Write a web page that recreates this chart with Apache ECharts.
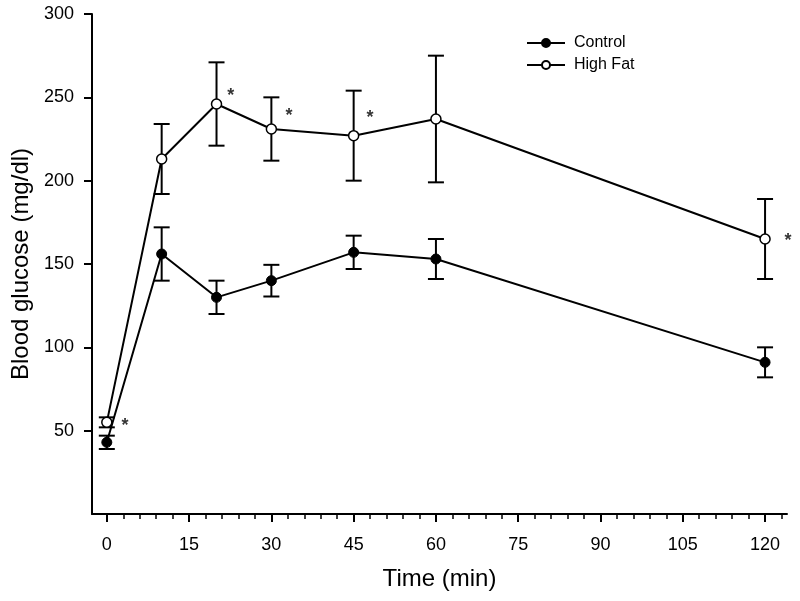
<!DOCTYPE html>
<html><head><meta charset="utf-8">
<script src="https://cdn.jsdelivr.net/npm/echarts@6/dist/echarts.min.js"></script>
<style>html,body{margin:0;padding:0;background:#fff}#c{width:800px;height:601px}</style>
</head><body><div id="c"></div>
<script>
var times = [0, 10, 20, 30, 45, 60, 120];
var controlMean = [43, 156, 130, 140, 157, 153, 91];
var controlErr  = [4, 16, 10, 9.5, 10, 12, 9];
var highFatMean = [55, 213, 246, 231, 227, 237, 165];
var highFatErr  = [3, 21, 25, 19, 27, 38, 24];
var starTimes   = [3.3, 22.6, 33.2, 48, 124.2];
var starValues  = [55, 253, 241, 240, 166];
var xTickLabels = [0, 15, 30, 45, 60, 75, 90, 105, 120];
var xMinorTicks = [];
for (var m = -3; m <= 123; m += 3) xMinorTicks.push(m);
var yTickLabels = [50, 100, 150, 200, 250, 300];

var FONT = 'Liberation Sans';
function pairs(xs, ys){ return xs.map(function(x,i){ return [x, ys[i]]; }); }
function errData(xs, mean, err){ return xs.map(function(x,i){ return [x, mean[i]-err[i], mean[i]+err[i]]; }); }

function errorBar(params, api){
  var x = api.value(0);
  var lo = api.coord([x, api.value(1)]);
  var hi = api.coord([x, api.value(2)]);
  var w = 8;
  var st = {stroke:'#000', lineWidth:2};
  return {type:'group', children:[
    {type:'line', shape:{x1:lo[0], y1:lo[1], x2:hi[0], y2:hi[1]}, style:st},
    {type:'line', shape:{x1:lo[0]-w, y1:lo[1], x2:lo[0]+w, y2:lo[1]}, style:st},
    {type:'line', shape:{x1:hi[0]-w, y1:hi[1], x2:hi[0]+w, y2:hi[1]}, style:st}
  ]};
}

var chart = echarts.init(document.getElementById('c'));
chart.setOption({
  animation:false,
  backgroundColor:'#fff',
  grid:{left:92, right:13, top:14, bottom:87},
  legend:{
    orient:'vertical', left:521, top:30, itemWidth:38, itemHeight:10, itemGap:6,
    textStyle:{fontFamily:FONT, fontSize:16, color:'#000', padding:[0,0,0,4]},
    data:['Control','High Fat']
  },
  xAxis:[{
    type:'value', min:-2.7, max:124,
    name:'Time (min)', nameLocation:'middle', nameGap:53,
    nameTextStyle:{fontFamily:FONT, fontSize:24, color:'#000'},
    axisLine:{onZero:false, lineStyle:{color:'#000', width:2}},
    axisTick:{show:true, length:8, lineStyle:{color:'#000', width:2}, customValues:xTickLabels},
    axisLabel:{fontFamily:FONT, fontSize:18, color:'#000', margin:22, customValues:xTickLabels},
    splitLine:{show:false}
  },{
    type:'value', min:-2.7, max:124, position:'bottom',
    axisLine:{show:false, onZero:false},
    axisTick:{show:true, length:5, lineStyle:{color:'#000', width:1.5}, customValues:xMinorTicks},
    axisLabel:{show:false},
    splitLine:{show:false}
  }],
  yAxis:{
    type:'value', min:0, max:300,
    name:'Blood glucose (mg/dl)', nameLocation:'middle', nameGap:50,
    nameTextStyle:{fontFamily:FONT, fontSize:24, color:'#000'},
    axisLine:{show:true, onZero:false, lineStyle:{color:'#000', width:2}},
    axisTick:{show:true, length:8, lineStyle:{color:'#000', width:2}, customValues:yTickLabels},
    axisLabel:{fontFamily:FONT, fontSize:18, color:'#000', margin:18, customValues:yTickLabels},
    splitLine:{show:false}
  },
  series:[
    {type:'custom', name:'ctrlErr', renderItem:errorBar, data:errData(times, controlMean, controlErr), z:1, silent:true},
    {type:'custom', name:'hfErr', renderItem:errorBar, data:errData(times, highFatMean, highFatErr), z:1, silent:true},
    {type:'line', name:'Control', data:pairs(times, controlMean), symbol:'circle', symbolSize:10,
     lineStyle:{color:'#000', width:2}, itemStyle:{color:'#000', borderColor:'#000', borderWidth:1}, z:3},
    {type:'line', name:'High Fat', data:pairs(times, highFatMean), symbol:'circle', symbolSize:10,
     lineStyle:{color:'#000', width:2}, itemStyle:{color:'#fff', borderColor:'#000', borderWidth:1.5}, z:3},
    {type:'scatter', name:'stars', data:pairs(starTimes, starValues), symbol:'circle', symbolSize:1, clip:false, silent:true,
     itemStyle:{color:'rgba(0,0,0,0)'},
     label:{show:true, position:'inside', formatter:'*', fontFamily:FONT, fontSize:18, fontWeight:'bold', color:'#000', offset:[0,4]}}
  ]
});
</script>
</body></html>
